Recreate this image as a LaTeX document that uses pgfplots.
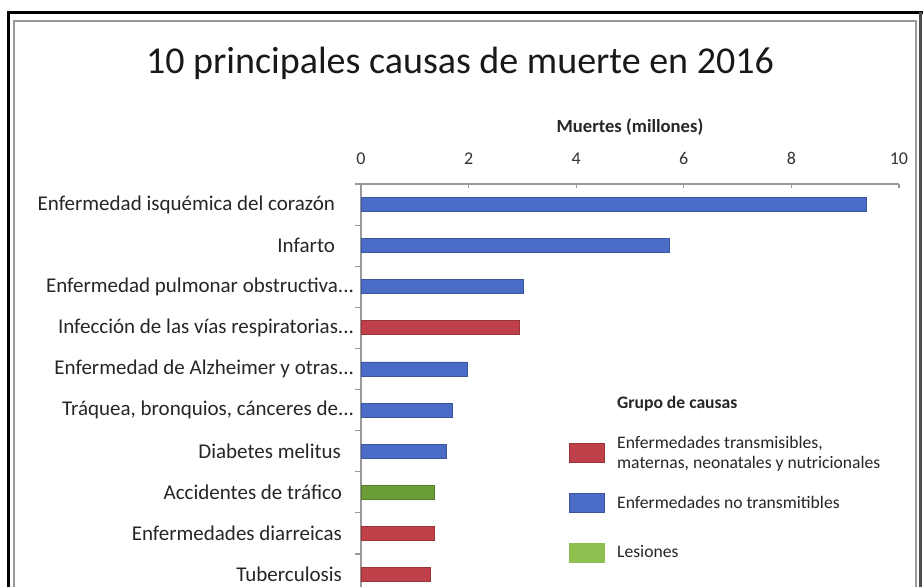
\documentclass[border=0pt]{standalone}
\usepackage{pgfplots}
\pgfplotsset{compat=1.18}
\usepackage{fontspec}
\setmainfont{Carlito}
\definecolor{cBlue}{HTML}{4A6CC6}
\definecolor{cRed}{HTML}{C0404A}
\definecolor{cGreen}{HTML}{6C9E38}
\definecolor{cGreenL}{HTML}{8DC04F}
\newcommand{\tdots}{.\kern0pt.\kern0pt.}
\begin{document}
\begin{tikzpicture}[x=0.5pt,y=-0.5pt]
\clip (0,0) rectangle (923,587);
\fill[white] (0,0) rectangle (923,587);
\draw[black, line width=1.3pt] (8.5,600) -- (8.5,12.5) -- (923,12.5);
\draw[black!70, line width=1.3pt] (920.5,12.5) -- (920.5,600);
\draw[black!40, line width=1pt] (14,600) -- (14,21) -- (916,21) -- (916,600);
\node[font=\fontsize{19}{22}\selectfont, text=black!90] at (460,63) {10 principales causas de muerte en 2016};
\begin{axis}[
  at={(180.5pt,-92pt)}, anchor=north west,
  scale only axis, width=269pt, height=205.5pt,
  xbar, bar shift=0pt, bar width=7pt,
  xmin=0, xmax=10, ymin=-0.5, ymax=9.5, y dir=reverse,
  axis x line*=top, axis y line*=left,
  axis line style={draw=black!40, line width=0.8pt},
  xtick={0,2,4,6,8,10},
  ytick={0,1,2,3,4,5,6,7,8,9},
  yticklabels={
    {Enfermedad isquémica del corazón\hspace*{9.5pt}},
    {Infarto\hspace*{9.5pt}},
    {Enfermedad pulmonar obstructiva\tdots},
    {Infección de las vías respiratorias\tdots},
    {Enfermedad de Alzheimer y otras\tdots},
    {Tráquea, bronquios, cánceres de\tdots},
    {Diabetes melitus\hspace*{6.5pt}},
    {Accidentes de tráfico\hspace*{6pt}},
    {Enfermedades diarreicas\hspace*{6pt}},
    {Tuberculosis\hspace*{6pt}}},
  minor ytick={-0.5,0.5,1.5,2.5,3.5,4.5,5.5,6.5,7.5,8.5,9.5},
  tick align=outside,
  major tick length=2pt, minor tick length=3pt,
  major y tick style={draw=none},
  minor y tick style={draw=black!40, line width=0.6pt},
  major x tick style={draw=black!40, line width=0.6pt, yshift=-2pt},
  /pgf/number format/assume math mode=true,
  xticklabel style={font=\fontsize{9}{10}\selectfont, text=black!80},
  xticklabel shift=4pt,
  yticklabel style={font=\fontsize{10.5}{12}\selectfont, text=black!85, xshift=2pt},
  xlabel={\bfseries Muertes (millones)},
  xlabel style={font=\fontsize{9.3}{11}\selectfont, text=black!85, yshift=1.5pt},
  legend cell align=left,
  legend image code/.code={\fill[#1] (0pt,-4.75pt) rectangle (17.5pt,4.75pt);},
  legend style={draw=none, fill=none, inner sep=0pt,
    at={(axis cs:3.866,4.22)}, anchor=north west,
    font=\fontsize{8.8}{10}\selectfont, row sep=0pt,
    nodes={minimum height=25pt, align=left, text=black!85, inner xsep=6pt}},
]
\addlegendimage{empty legend}
\addlegendentry{\bfseries Grupo de causas}
\addplot[fill=cRed, draw=cRed!80!black] coordinates {(2.94,3) (1.36,8) (1.29,9)};
\addlegendentry{Enfermedades transmisibles,\\maternas, neonatales y nutricionales}
\addplot[fill=cBlue, draw=cBlue!80!black] coordinates {(9.39,0) (5.74,1) (3.01,2) (1.97,4) (1.69,5) (1.58,6)};
\addlegendentry{Enfermedades no transmitibles}
\addplot[fill=cGreen, draw=cGreen!80!black, legend image code/.code={\fill[cGreenL] (0pt,-4.75pt) rectangle (17.5pt,4.75pt);}] coordinates {(1.36,7)};
\addlegendentry{Lesiones}
\end{axis}
\end{tikzpicture}
\end{document}
